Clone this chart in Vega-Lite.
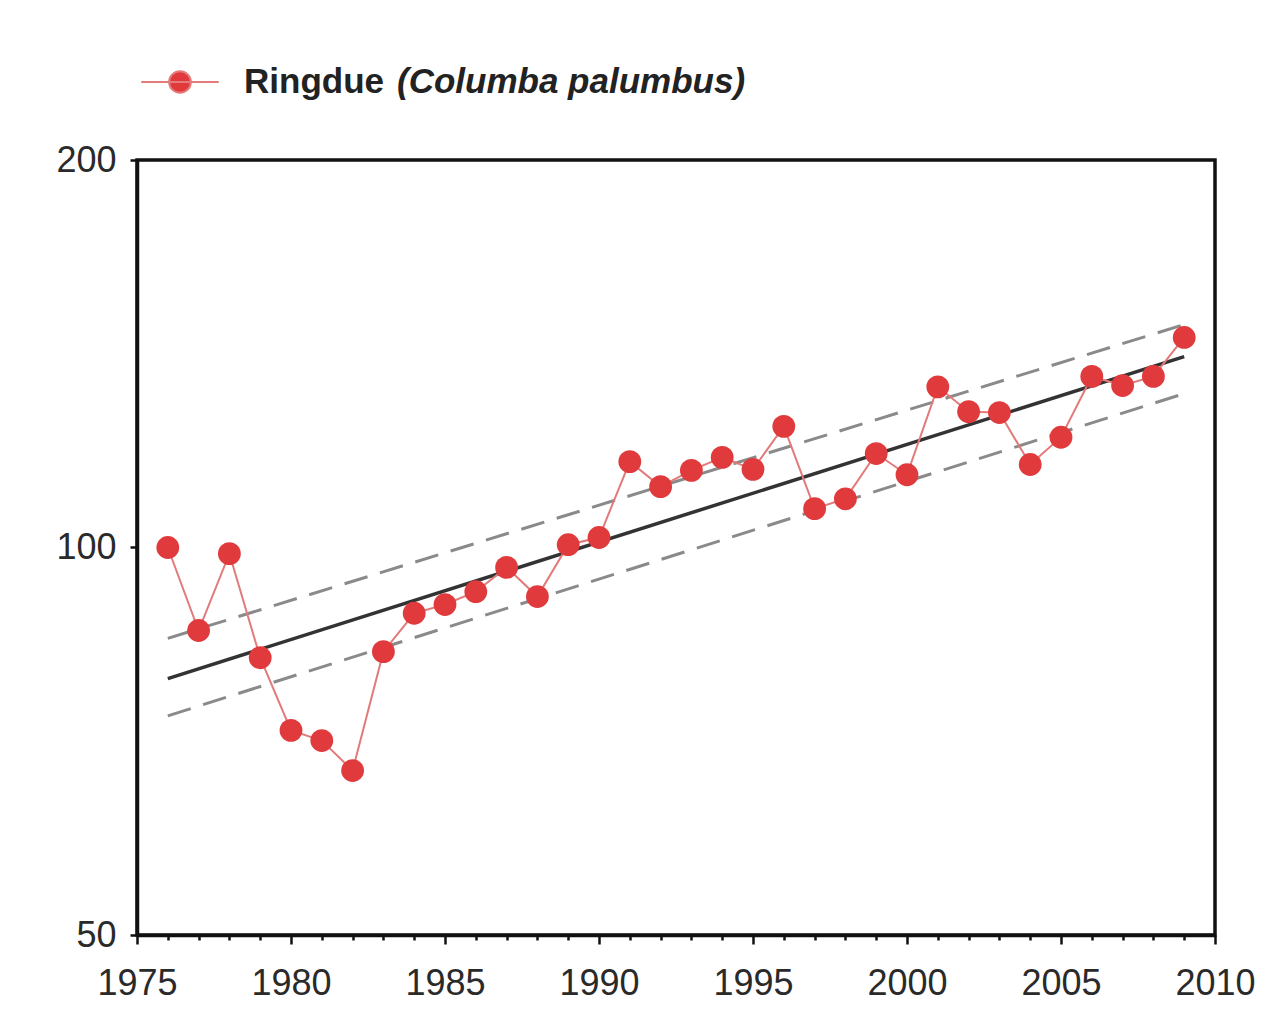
{
  "$schema": "https://vega.github.io/schema/vega-lite/v6.json",
  "width": 1078,
  "height": 775,
  "autosize": {"type": "none"},
  "padding": {"left": 137, "top": 160, "right": 72, "bottom": 93},
  "background": "white",
  "config": {
    "view": {"stroke": "#111", "strokeWidth": 3.5},
    "axis": {
      "domainColor": "#111", "domainWidth": 3.5,
      "tickColor": "#111", "tickWidth": 2.5,
      "labelFont": "Liberation Sans", "labelFontSize": 36, "labelColor": "#2a2a2a",
      "grid": false, "title": null, "labelOverlap": false, "labelFlush": false
    },
    "axisX": {"labelOverlap": false, "labelPadding": 22},
    "axisY": {"labelPadding": 14},
    "legend": {"labelFont": "Liberation Sans", "padding": 0}
  },
  "datasets": {
    "idx": [
      {"year": 1976, "index": 100.0},
      {"year": 1977, "index": 86.2},
      {"year": 1978, "index": 98.9},
      {"year": 1979, "index": 82.1},
      {"year": 1980, "index": 72.1},
      {"year": 1981, "index": 70.8},
      {"year": 1982, "index": 67.1},
      {"year": 1983, "index": 83.0},
      {"year": 1984, "index": 88.9},
      {"year": 1985, "index": 90.3},
      {"year": 1986, "index": 92.4},
      {"year": 1987, "index": 96.5},
      {"year": 1988, "index": 91.6},
      {"year": 1989, "index": 100.5},
      {"year": 1990, "index": 101.8},
      {"year": 1991, "index": 116.6},
      {"year": 1992, "index": 111.5},
      {"year": 1993, "index": 114.8},
      {"year": 1994, "index": 117.5},
      {"year": 1995, "index": 115.0},
      {"year": 1996, "index": 124.2},
      {"year": 1997, "index": 107.2},
      {"year": 1998, "index": 109.1},
      {"year": 1999, "index": 118.3},
      {"year": 2000, "index": 113.9},
      {"year": 2001, "index": 133.3},
      {"year": 2002, "index": 127.5},
      {"year": 2003, "index": 127.3},
      {"year": 2004, "index": 116.0},
      {"year": 2005, "index": 121.8},
      {"year": 2006, "index": 135.8},
      {"year": 2007, "index": 133.6},
      {"year": 2008, "index": 135.8},
      {"year": 2009, "index": 145.6}
    ],
    "trend": [
      {"series": "trend", "year": 1976, "value": 79.1},
      {"series": "trend", "year": 2009, "value": 140.7},
      {"series": "upper", "year": 1976, "value": 85.0},
      {"series": "upper", "year": 2009, "value": 149.0},
      {"series": "lower", "year": 1976, "value": 74.0},
      {"series": "lower", "year": 2009, "value": 131.7}
    ]
  },
  "encoding": {
    "x": {
      "field": "year", "type": "quantitative",
      "scale": {"domain": [1975, 2010], "nice": false, "zero": false},
      "axis": {
        "values": [1975,1976,1977,1978,1979,1980,1981,1982,1983,1984,1985,1986,1987,1988,1989,1990,1991,1992,1993,1994,1995,1996,1997,1998,1999,2000,2001,2002,2003,2004,2005,2006,2007,2008,2009,2010],
        "labelExpr": "datum.value % 5 === 0 ? '' + datum.value : ''",
        "tickSize": {"condition": {"test": "datum.value % 5 === 0", "value": 9}, "value": 5},
        "labelOverlap": false
      }
    }
  },
  "layer": [
    {
      "mark": {"type": "rule", "color": "#b5b5b5", "strokeWidth": 2},
      "encoding": {
        "x": null,
        "y": {"datum": 100, "type": "quantitative", "scale": {"type": "log", "domain": [50, 200], "nice": false},
              "axis": {"values": [50, 100, 200], "tickSize": 7}}
      }
    },
    {
      "data": {"name": "trend"},
      "transform": [{"filter": "datum.series !== 'trend'"}],
      "mark": {"type": "line", "color": "#8a8a8a", "strokeWidth": 3, "strokeDash": [24, 13]},
      "encoding": {
        "y": {"field": "value", "type": "quantitative"},
        "detail": {"field": "series"}
      }
    },
    {
      "data": {"name": "trend"},
      "transform": [{"filter": "datum.series === 'trend'"}],
      "mark": {"type": "line", "color": "#333333", "strokeWidth": 3.5},
      "encoding": {
        "y": {"field": "value", "type": "quantitative"}
      }
    },
    {
      "data": {"name": "idx"},
      "mark": {"type": "line", "color": "#e27a7a", "strokeWidth": 2},
      "encoding": {
        "y": {"field": "index", "type": "quantitative"}
      }
    },
    {
      "data": {"name": "idx"},
      "mark": {"type": "point", "filled": true, "opacity": 1, "size": 520},
      "encoding": {
        "y": {"field": "index", "type": "quantitative"},
        "color": {
          "datum": "Ringdue",
          "type": "nominal",
          "scale": {"range": ["#e03a3c"]},
          "legend": {
            "title": null,
            "orient": "none",
            "legendX": 3,
            "legendY": -118,
            "symbolType": "M-1,0L1,0M-0.28,0A0.28,0.28 0 1,0 0.28,0A0.28,0.28 0 1,0 -0.28,0Z",
            "symbolSize": 6000,
            "symbolStrokeWidth": 2,
            "symbolStrokeColor": "#e47a7a",
            "symbolFillColor": "#e03a3c",
            "symbolOpacity": 1,
            "labelFontSize": 35,
            "labelFontWeight": "bold",
            "labelColor": "#222",
            "labelOffset": 24,
            "labelLimit": 800
          }
        },
        "shape": {
          "datum": "(Columba palumbus)",
          "type": "nominal",
          "scale": {"range": ["circle"]},
          "legend": {
            "title": null,
            "orient": "none",
            "legendX": 225,
            "legendY": -96,
            "symbolSize": 0,
            "symbolOpacity": 0,
            "symbolStrokeWidth": 0,
            "labelFontSize": 35,
            "labelFontWeight": "bold",
            "labelFontStyle": "italic",
            "labelColor": "#222",
            "labelOffset": 0,
            "labelLimit": 800
          }
        }
      }
    }
  ]
}
